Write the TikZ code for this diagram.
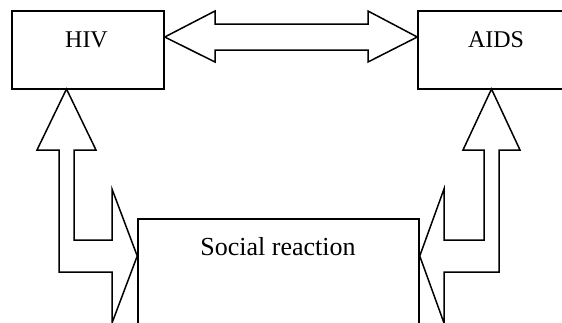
\documentclass[tikz,border=0pt]{standalone}
\usepackage{fontspec}
\setmainfont{Liberation Serif}
\begin{document}
\begin{tikzpicture}[x=1pt,y=-1pt,
  box/.style={draw,line width=1.5pt,rectangle,inner sep=0pt},
  lbl/.style={anchor=base,inner sep=0pt,font=\fontsize{24}{28}\selectfont},
  blockarrow/.style={draw,line width=1.5pt,line join=miter,fill=white}]
\useasboundingbox (0,0) rectangle (562,322);
\clip (0,0) rectangle (562,322);
% boxes
\node[box,minimum width=152pt,minimum height=78pt] (hiv) at (88,50) {};
\node[box,minimum width=156pt,minimum height=78pt] (aids) at (496,50) {};
\node[box,minimum width=281pt,minimum height=131pt] (soc) at (278.5,284.5) {};
% labels
\node[lbl] (hivt) at (86.5,47) {HIV};
\node[lbl] (aidst) at (496,47) {AIDS};
\node[lbl,font=\fontsize{26}{30}\selectfont] (soct) at (278,255) {Social reaction};
% double arrow between HIV and AIDS
\draw[blockarrow] (hiv.east |- 0,37) -- (215,11) -- (215,24) -- (368,24) -- (368,11)
  -- (aids.west |- 0,37) -- (368,62) -- (368,50) -- (215,50) -- (215,62) -- cycle;
% left bent arrow
\draw[blockarrow] (66.5,89) -- (96,150) -- (74,150) -- (74,240) -- (112,240) -- (112,189)
  -- (soc.west |- 0,256) -- (112,323) -- (112,272) -- (59,272) -- (59,150) -- (37,150) -- cycle;
% right bent arrow
\draw[blockarrow] (491.5,89) -- (520,150) -- (499,150) -- (499,272) -- (444,272) -- (444,323)
  -- (soc.east |- 0,256) -- (444,189) -- (444,240) -- (484,240) -- (484,150) -- (463,150) -- cycle;
\end{tikzpicture}
\end{document}
